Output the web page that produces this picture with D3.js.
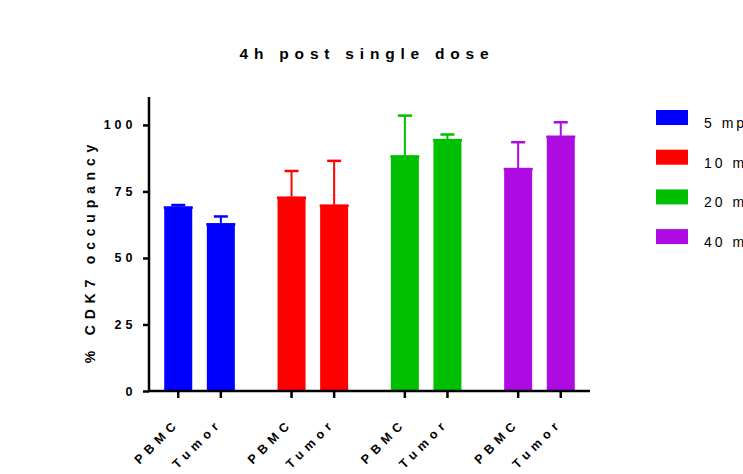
<!DOCTYPE html>
<html><head><meta charset="utf-8">
<script src="https://cdn.jsdelivr.net/npm/d3@7"></script>
<style>body{margin:0;background:#fff;overflow:hidden}svg{display:block;font-family:Arial,"Liberation Sans",sans-serif}</style>
</head><body>
<script>
const groups = ["5 mpk", "10 mpk", "20 mpk", "40 mpk"];
const tissues = ["PBMC", "Tumor"];
const means = [[69.3, 63.0], [73.0, 70.0], [88.5, 94.7], [83.8, 95.9]];
const errors = [[0.6, 2.6], [9.7, 16.5], [15.0, 1.7], [9.7, 5.1]];
const colors = ["#0000ff", "#ff0000", "#00bf00", "#ae0ae2"];
const yTicks = [0, 25, 50, 75, 100];
const title = "4h post single dose";
const yLabel = "% CDK7 occupancy";

const W = 743, H = 474;
const svg = d3.select("body").append("svg").attr("width", W).attr("height", H);

const x0 = 149, x1 = 590, yTop = 97, yBot = 391;
const y = d3.scaleLinear().domain([0, 110.5]).range([yBot, yTop]);
const xg = d3.scalePoint().domain(groups).range([x0, x1]).padding(0.446);
const xi = d3.scalePoint().domain(tissues).range([-21.3, 21.3]);
const barW = 28;

const data = [];
groups.forEach((g, gi) => tissues.forEach((t, ti) => data.push({g, t, gi, v: means[gi][ti], e: errors[gi][ti]})));

// error bars
const eb = svg.append("g");
data.forEach(d => {
  const cx = xg(d.g) + xi(d.t);
  eb.append("line").attr("x1", cx).attr("x2", cx).attr("y1", y(d.v)).attr("y2", y(d.v + d.e))
    .attr("stroke", colors[d.gi]).attr("stroke-width", 2);
  eb.append("line").attr("x1", cx - 7).attr("x2", cx + 7).attr("y1", y(d.v + d.e)).attr("y2", y(d.v + d.e))
    .attr("stroke", colors[d.gi]).attr("stroke-width", 2.5);
});

// bars
svg.append("g").selectAll("rect").data(data).join("rect")
  .attr("x", d => xg(d.g) + xi(d.t) - barW / 2)
  .attr("y", d => y(d.v))
  .attr("width", barW)
  .attr("height", d => yBot - y(d.v))
  .attr("fill", d => colors[d.gi]);
svg.append("g").selectAll("line").data(data).join("line")
  .attr("x1", d => xg(d.g) + xi(d.t) - barW / 2 - 0.5)
  .attr("x2", d => xg(d.g) + xi(d.t) + barW / 2 + 0.5)
  .attr("y1", d => y(d.v) + 1).attr("y2", d => y(d.v) + 1)
  .attr("stroke", d => colors[d.gi]).attr("stroke-width", 2.5);

// y axis
const ya = svg.append("g").attr("transform", `translate(${x0},0)`)
  .call(d3.axisLeft(y).tickValues(yTicks).tickSize(6).tickPadding(6.5).tickSizeOuter(0));
ya.select(".domain").attr("stroke", "#000").attr("stroke-width", 2.5).attr("d", `M0,${yTop}V${yBot + 1}`);
ya.selectAll(".tick line").attr("stroke", "#000").attr("stroke-width", 2.5);
ya.selectAll(".tick text").attr("font-size", 12.5).attr("font-weight", "bold").attr("fill", "#000")
  .attr("letter-spacing", "4px").attr("font-family", "Arial,'Liberation Sans',sans-serif");

// x axis
svg.append("line").attr("x1", x0 - 1).attr("x2", x1).attr("y1", yBot).attr("y2", yBot)
  .attr("stroke", "#000").attr("stroke-width", 2.5);
const xt = svg.append("g");
data.forEach(d => {
  const cx = xg(d.g) + xi(d.t);
  xt.append("line").attr("x1", cx).attr("x2", cx).attr("y1", yBot).attr("y2", yBot + 7)
    .attr("stroke", "#000").attr("stroke-width", 2.5);
  xt.append("text").attr("transform", `translate(${cx + 2},${yBot + 33}) rotate(-45)`)
    .attr("text-anchor", "end").attr("font-size", 12.5).attr("font-weight", "bold")
    .attr("letter-spacing", "5.2px").text(d.t);
});

// title
svg.append("text").attr("x", 367).attr("y", 59).attr("text-anchor", "middle")
  .attr("font-size", 15.5).attr("font-weight", "bold").attr("letter-spacing", "5.8px").text(title);

// y label
svg.append("text").attr("transform", `translate(95,251) rotate(-90)`).attr("text-anchor", "middle")
  .attr("font-size", 14).attr("font-weight", "bold").attr("letter-spacing", "5.8px").text(yLabel);

// legend
const lg = svg.append("g");
groups.forEach((g, i) => {
  lg.append("rect").attr("x", 656).attr("y", 110 + i * 39.7).attr("width", 32).attr("height", 15).attr("fill", colors[i]);
  lg.append("text").attr("x", 704).attr("y", 128 + i * 39.7).attr("font-size", 14)
    .attr("letter-spacing", "3px").text(g);
});
</script>
</body></html>
